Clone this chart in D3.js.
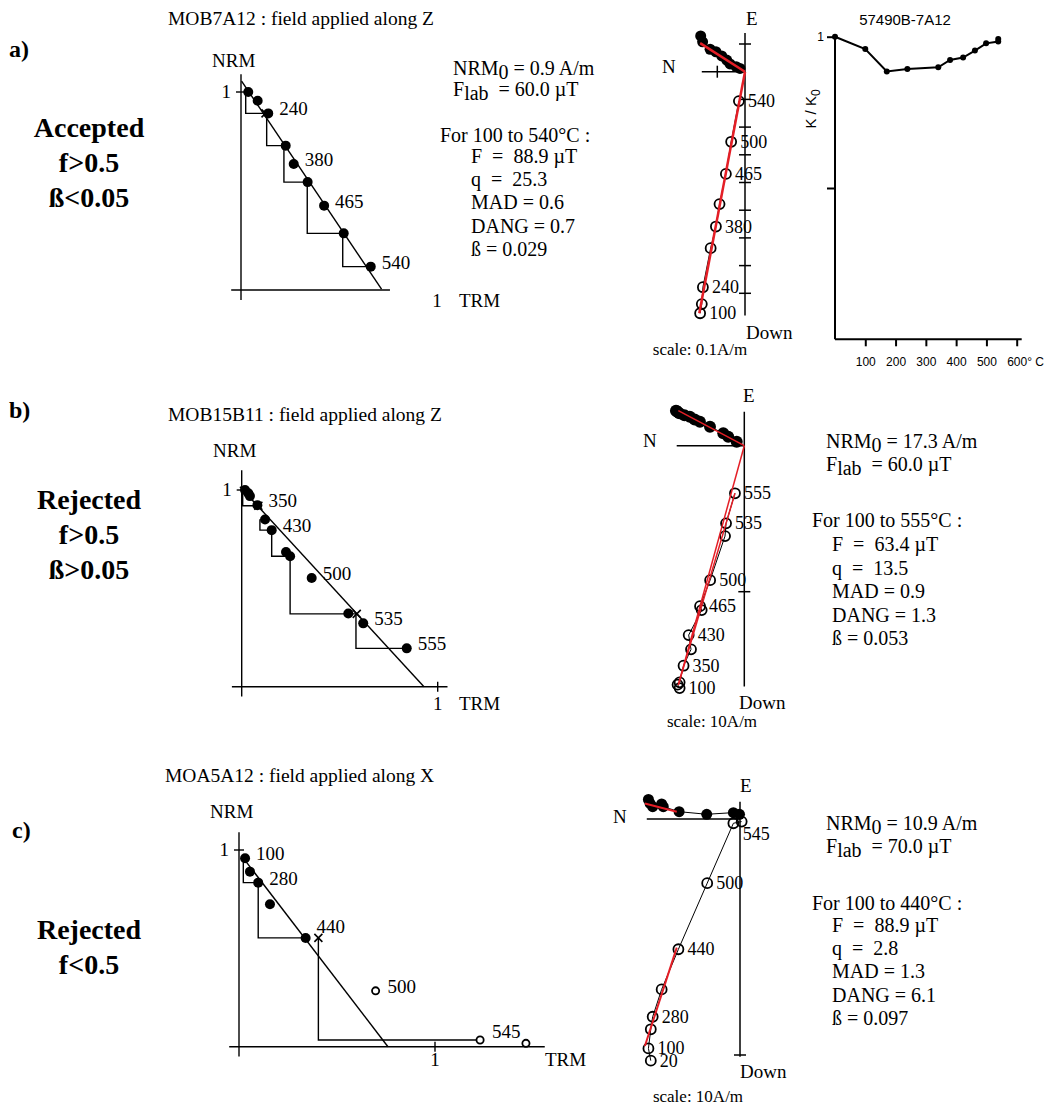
<!DOCTYPE html>
<html>
<head>
<meta charset="utf-8">
<script src="https://cdn.jsdelivr.net/npm/d3@7/dist/d3.min.js"></script>
<style>
  body { margin: 0; background: #fff; }
  svg { display: block; }
</style>
</head>
<body>
<div id="chart"></div>
<script>
// ---------- panel a : MOB7A12 ----------
const aTrm = [0.037, 0.085, 0.139, 0.228, 0.269, 0.340, 0.424, 0.524, 0.662];
const aNrm = [1.000, 0.956, 0.892, 0.729, 0.636, 0.545, 0.426, 0.286, 0.118];
const aTemps = ['', '', '240', '', '380', '', '465', '', '540'];
// pTRM checks: [trm of start, nrm top, nrm bottom, trm of check]
const aChecks = [[0.024, 1.0, 0.892, 0.13], [0.131, 0.892, 0.729, 0.22], [0.219, 0.729, 0.545, 0.335],
                 [0.338, 0.545, 0.286, 0.52], [0.519, 0.286, 0.118, 0.65]];
const aCross = [[0.125, 0.892]];
const aFit = [[0.003, 1.055], [0.717, 0.004]];
// zijderveld (A/m)
const aHorN = [0.160, 0.153, 0.126, 0.105, 0.084, 0.066, 0.054, 0.032, 0.018];
const aHorE = [0.129, 0.108, 0.081, 0.072, 0.057, 0.042, 0.028, 0.018, 0.012];
const aVerN = [0.162, 0.156, 0.152, 0.124, 0.105, 0.092, 0.069, 0.050, 0.022];
const aVerD = [0.872, 0.839, 0.778, 0.637, 0.559, 0.478, 0.369, 0.253, 0.106];
const aZTemps = ['100', '', '240', '', '380', '', '465', '500', '540'];
const aFitH = [[[0.162, 0.103], [0, 0]]];
const aFitV = [[[0.165, 0.872], [0, 0]]];
const aStats = ['For 100 to 540°C :', 'F  =  88.9 µT', 'q  =  25.3', 'MAD = 0.6', 'DANG = 0.7', 'ß = 0.029'];
const aNrm0 = ' = 0.9 A/m', aFlab = '  = 60.0 µT';

// susceptibility
const kTemp = [0, 100, 171, 239, 341, 380, 423, 462, 499, 539, 539];
const kRatio = [1.0, 0.959, 0.885, 0.893, 0.899, 0.923, 0.931, 0.954, 0.978, 0.984, 0.992];
const kTicks = [100, 200, 300, 400, 500, 600];

// ---------- panel b : MOB15B11 ----------
const bTrm = [0.017, 0.034, 0.042, 0.080, 0.119, 0.153, 0.226, 0.247, 0.357, 0.544, 0.620, 0.842];
const bNrm = [1.000, 0.983, 0.969, 0.923, 0.850, 0.796, 0.685, 0.663, 0.553, 0.372, 0.322, 0.195];
const bTemps = ['', '', '', '350', '', '430', '', '', '500', '', '535', '555'];
const bChecks = [[0.005, 1.0, 0.920, 0.085], [0.093, 0.851, 0.796, 0.153], [0.153, 0.796, 0.663, 0.238],
                 [0.247, 0.663, 0.370, 0.587], [0.583, 0.370, 0.195, 0.842]];
const bCross = [[0.085, 0.920], [0.587, 0.370]];
const bFit = [[-0.009, 1.017], [0.93, 0]];
const bHorN = [4.68, 4.62, 4.55, 4.45, 4.10, 3.73, 3.40, 3.04, 2.35, 1.44, 1.10, 0.52];
const bHorE = [2.40, 2.36, 2.30, 2.22, 2.08, 1.99, 1.80, 1.64, 1.30, 0.85, 0.62, 0.27];
const bVerN = [4.43, 4.57, 4.43, 4.16, 3.65, 3.81, 2.92, 3.03, 2.34, 1.32, 1.25, 0.64];
const bVerD = [16.6, 16.37, 16.21, 15.07, 13.95, 12.97, 11.26, 10.99, 9.21, 6.19, 5.32, 3.26];
const bZTemps = ['100', '', '', '350', '', '430', '', '465', '500', '', '535', '555'];
const bFitH = [[[4.52, 2.40], [0, 0]]];
const bFitV = [[[4.52, 16.39], [0, 0]], [[4.52, 16.39], [0.64, 3.26]]];
const bStats = ['For 100 to 555°C :', 'F  =  63.4 µT', 'q  =  13.5', 'MAD = 0.9', 'DANG = 1.3', 'ß = 0.053'];
const bNrm0 = ' = 17.3 A/m', bFlab = '  = 60.0 µT';

// ---------- panel c : MOA5A12 ----------
const cTrm = [0.031, 0.056, 0.098, 0.158, 0.340];
const cNrm = [0.958, 0.890, 0.834, 0.724, 0.553];
const cTemps = ['100', '', '280', '', ''];
const cOpenTrm = [0.697, 1.230, 1.464];
const cOpenNrm = [0.284, 0.034, 0.017];
const cOpenTemps = ['500', '545', ''];
const cChecks = [[0.022, 0.958, 0.834, 0.098], [0.098, 0.834, 0.553, 0.340], [0.405, 0.553, 0.034, 1.23]];
const cCross = [[0.405, 0.553]];
const cCrossTemps = ['440'];
const cFit = [[0.022, 0.959], [0.76, 0]];
const cHorN = [3.88, 3.81, 3.70, 3.32, 3.25, 2.58, 1.41, 0.28, 0.02];
const cHorE = [0.83, 0.66, 0.52, 0.64, 0.52, 0.31, 0.20, 0.27, 0.20];
const cVerN = [3.78, 3.88, 3.78, 3.70, 3.32, 2.61, 1.39, 0.28, -0.07];
const cVerD = [10.24, 9.72, 8.91, 8.38, 7.22, 5.52, 2.72, 0.18, 0.11];
const cZTemps = ['20', '100', '', '280', '', '440', '500', '', '545'];
const cFitH = [[[4.03, 0.66], [2.68, 0.31]]];
const cFitV = [[[4.03, 9.62], [2.68, 5.45]]];
const cStats = ['For 100 to 440°C :', 'F  =  88.9 µT', 'q  =  2.8', 'MAD = 1.3', 'DANG = 6.1', 'ß = 0.097'];
const cNrm0 = ' = 10.9 A/m', cFlab = '  = 70.0 µT';

// ---------- drawing ----------
const SERIF = '"Liberation Serif", "Times New Roman", serif';
const SANS = '"Liberation Sans", Arial, Helvetica, sans-serif';
const RED = '#e41e26';

const svg = d3.select('#chart').append('svg')
  .attr('width', 1045).attr('height', 1106)
  .style('font-family', SERIF);

function label(g, x, y, s, size = 19, anchor = 'start', weight = null) {
  return g.append('text')
    .attr('x', x).attr('y', y)
    .attr('font-size', size)
    .attr('text-anchor', anchor)
    .attr('font-weight', weight)
    .style('white-space', 'pre')
    .text(s);
}

function line(g, x1, y1, x2, y2, w = 1.4, c = '#000') {
  return g.append('line')
    .attr('x1', x1).attr('y1', y1).attr('x2', x2).attr('y2', y2)
    .attr('stroke', c).attr('stroke-width', w);
}

function subLine(g, x, y, a, s, b, size = 20) {
  const t = g.append('text').attr('x', x).attr('y', y)
    .attr('font-size', size).style('white-space', 'pre');
  t.append('tspan').text(a);
  t.append('tspan').attr('dy', 4).text(s);
  t.append('tspan').attr('dy', -4).text(b);
}

function drawArai(L, trm, nrm, temps, openTrm, openNrm, openTemps, checks, crosses, crossTemps, fit) {
  const x = d3.scaleLinear().domain([0, 1]).range([L.ox, L.ox + L.sx]);
  const y = d3.scaleLinear().domain([0, 1]).range([L.oy, L.oy - L.sy]);
  const g = svg.append('g');

  // axes
  line(g, x(-0.05), y(0), x(L.xMax), y(0));
  line(g, x(0), y(-0.05), x(0), y(L.yMax));
  line(g, x(0) - 5, y(1), x(0) + 5, y(1));
  if (L.trmTick) line(g, x(1), y(0) - 5, x(1), y(0) + 5);
  label(g, x(0) - 10, y(1) + 6, '1', 19, 'end');
  label(g, L.nrmX, L.nrmY, 'NRM', 19);
  label(g, x(1), y(0) + L.trmDy, '1', 19, 'middle');
  label(g, L.trmX, y(0) + L.trmDy, 'TRM', 19);

  // pTRM checks
  g.selectAll('path.check').data(checks).enter().append('path')
    .attr('class', 'check')
    .attr('d', c => `M${x(c[0])},${y(c[1])}V${y(c[2])}H${x(c[3])}`)
    .attr('fill', 'none').attr('stroke', '#000').attr('stroke-width', 1.4);

  // best fit
  line(g, x(fit[0][0]), y(fit[0][1]), x(fit[1][0]), y(fit[1][1]), 1.4);

  // crosses
  crosses.forEach(([cx, cy], i) => {
    const px = x(cx), py = y(cy);
    line(g, px - 4, py - 4, px + 4, py + 4, 1.6);
    line(g, px - 4, py + 4, px + 4, py - 4, 1.6);
    if (crossTemps && crossTemps[i]) label(g, px - 2, py - 5, crossTemps[i], 19);
  });

  // points
  g.selectAll('circle.f').data(trm).enter().append('circle')
    .attr('class', 'f')
    .attr('cx', d => x(d)).attr('cy', (d, i) => y(nrm[i]))
    .attr('r', 5).attr('fill', '#000');
  g.selectAll('circle.o').data(openTrm).enter().append('circle')
    .attr('class', 'o')
    .attr('cx', d => x(d)).attr('cy', (d, i) => y(openNrm[i]))
    .attr('r', 3.6).attr('fill', '#fff').attr('stroke', '#000').attr('stroke-width', 1.8);

  temps.forEach((t, i) => { if (t) label(g, x(trm[i]) + 11, y(nrm[i]) + 2, t, 19); });
  openTemps.forEach((t, i) => { if (t) label(g, x(openTrm[i]) + 12, y(openNrm[i]) + (i ? -2 : 2), t, 19); });
}

function drawZij(L, hN, hE, vN, vD, temps, fitH, fitV) {
  const x = d3.scaleLinear().domain([0, 1]).range([L.ox, L.ox - L.s]);
  const y = d3.scaleLinear().domain([0, 1]).range([L.oy, L.oy + L.s]);
  const g = svg.append('g');

  // axes
  line(g, x(L.nMax), y(0), x(0), y(0), 1.5);
  line(g, x(0), y(-L.eMax), x(0), y(L.dMax), 1.5);
  L.dTicks.forEach(d => line(g, x(0) - 6, y(d), x(0) + 6, y(d), 1.5));
  L.eTicks.forEach(e => line(g, x(0) - 6, y(-e), x(0) + 6, y(-e), 1.5));
  L.nTicks.forEach(n => line(g, x(n), y(0) - 6, x(n), y(0) + 6, 1.5));
  label(g, L.eLab[0], L.eLab[1], 'E', 19);
  label(g, L.nLab[0], L.nLab[1], 'N', 19);
  label(g, L.downLab[0], L.downLab[1], 'Down', 19);
  label(g, L.scaleLab[0], L.scaleLab[1], L.scaleText, 17, 'middle');

  // thin connecting lines
  const lh = d3.line().x((d, i) => x(d)).y((d, i) => y(-hE[i]));
  const lv = d3.line().x((d, i) => x(d)).y((d, i) => y(vD[i]));
  g.append('path').attr('d', lh(hN)).attr('fill', 'none').attr('stroke', '#000').attr('stroke-width', 1);
  g.append('path').attr('d', lv(vN)).attr('fill', 'none').attr('stroke', '#000').attr('stroke-width', 1);

  // horizontal projection (filled), vertical projection (open)
  g.selectAll('circle.h').data(hN).enter().append('circle')
    .attr('class', 'h')
    .attr('cx', d => x(d)).attr('cy', (d, i) => y(-hE[i]))
    .attr('r', L.rh).attr('fill', '#000');
  g.selectAll('circle.v').data(vN).enter().append('circle')
    .attr('class', 'v')
    .attr('cx', d => x(d)).attr('cy', (d, i) => y(vD[i]))
    .attr('r', 5).attr('fill', '#fff').attr('fill-opacity', 0)
    .attr('stroke', '#000').attr('stroke-width', 1.8);

  // fits
  fitH.forEach(s => line(g, x(s[0][0]), y(-s[0][1]), x(s[1][0]), y(-s[1][1]), L.redW, RED));
  fitV.forEach(s => line(g, x(s[0][0]), y(s[0][1]), x(s[1][0]), y(s[1][1]), L.redW, RED));

  temps.forEach((t, i) => {
    if (!t) return;
    const n = (L.nudge && L.nudge[t]) || [9, 6];
    label(g, x(vN[i]) + n[0], y(vD[i]) + n[1], t, 18);
  });
}

function drawStats(L, nrm0, flab, stats) {
  const g = svg.append('g');
  subLine(g, L.x0, L.y0, 'NRM', '0', nrm0);
  subLine(g, L.x0, L.y1, 'F', 'lab', flab);
  stats.forEach((s, i) => label(g, i ? L.x2 : L.x1, L.ys[i], s, 20));
}

function drawSide(L, lines) {
  const g = svg.append('g');
  label(g, L.tagX, L.tagY, L.tag, 24, 'start', 'bold');
  lines.forEach((s, i) => label(g, 89, L.y + i * 35, s, 28, 'middle', 'bold'));
}

// headers & side labels
label(svg, 168, 25, 'MOB7A12 : field applied along Z', 19.5);
label(svg, 168, 421, 'MOB15B11 : field applied along Z', 19.5);
label(svg, 165, 782, 'MOA5A12 : field applied along X', 19.5);
drawSide({tag: 'a)', tagX: 9, tagY: 57, y: 137}, ['Accepted', 'f>0.5', 'ß<0.05']);
drawSide({tag: 'b)', tagX: 9, tagY: 418, y: 509}, ['Rejected', 'f>0.5', 'ß>0.05']);
drawSide({tag: 'c)', tagX: 12, tagY: 838, y: 939}, ['Rejected', 'f<0.5']);

// Arai plots
drawArai({ox: 241, oy: 290, sx: 196, sy: 198, xMax: 0.76, yMax: 1.09, trmTick: false, nrmX: 212, nrmY: 67, trmX: 459, trmDy: 17},
  aTrm, aNrm, aTemps, [], [], [], aChecks, aCross, null, aFit);
drawArai({ox: 241.7, oy: 686.7, sx: 196, sy: 196.7, xMax: 1.05, yMax: 1.10, trmTick: true, nrmX: 213, nrmY: 457, trmX: 459, trmDy: 23},
  bTrm, bNrm, bTemps, [], [], [], bChecks, bCross, null, bFit);
drawArai({ox: 239, oy: 1046.7, sx: 196, sy: 196.7, xMax: 1.56, yMax: 1.09, trmTick: true, nrmX: 210, nrmY: 818, trmX: 545, trmDy: 19},
  cTrm, cNrm, cTemps, cOpenTrm, cOpenNrm, cOpenTemps, cChecks, cCross, cCrossTemps, cFit);

// Zijderveld plots
drawZij({ox: 745, oy: 71.7, s: 277, nMax: 0.156, eMax: 0.14, dMax: 0.88, rh: 5.5, redW: 2.5,
  dTicks: [0.1, 0.2, 0.3, 0.4, 0.5, 0.6, 0.7, 0.8], eTicks: [0.1], nTicks: [0.1],
  eLab: [746, 25], nLab: [662, 73], downLab: [746, 339], scaleLab: [700, 355], scaleText: 'scale: 0.1A/m'},
  aHorN, aHorE, aVerN, aVerD, aZTemps, aFitH, aFitV);
drawZij({ox: 744.3, oy: 445.7, s: 14.6, nMax: 4.63, eMax: 2.33, dMax: 16.5, rh: 6, redW: 1.5,
  dTicks: [10], eTicks: [], nTicks: [],
  eLab: [743, 402], nLab: [643, 447], downLab: [739, 709], scaleLab: [712, 727], scaleText: 'scale: 10A/m'},
  bHorN, bHorE, bVerN, bVerD, bZTemps, bFitH, bFitV);
drawZij({ox: 740, oy: 819, s: 23.6, nMax: 3.95, eMax: 0.73, dMax: 10.07, rh: 5.5, redW: 2,
  dTicks: [10], eTicks: [], nTicks: [], nudge: {'545': [1, 18]},
  eLab: [740, 792], nLab: [613, 823], downLab: [740, 1078], scaleLab: [698, 1102], scaleText: 'scale: 10A/m'},
  cHorN, cHorE, cVerN, cVerD, cZTemps, cFitH, cFitV);

// stats blocks
drawStats({x0: 453, y0: 75, y1: 96, x1: 440, x2: 471, ys: [142, 163, 186, 209, 233, 256]}, aNrm0, aFlab, aStats);
drawStats({x0: 826, y0: 448, y1: 471, x1: 812, x2: 832, ys: [527, 551, 575, 598, 622, 645]}, bNrm0, bFlab, bStats);
drawStats({x0: 826, y0: 830, y1: 853, x1: 812, x2: 832, ys: [910, 932, 955, 978, 1002, 1025]}, cNrm0, cFlab, cStats);

// susceptibility curve
{
  const kx = d3.scaleLinear().domain([0, 600]).range([835, 1016.7]);
  const ky = d3.scaleLinear().domain([0, 1]).range([339.3, 36.7]);
  const g = svg.append('g').style('font-family', SANS);

  line(g, kx(0), ky(0), 1021.7, ky(0), 2);
  line(g, kx(0), ky(0), kx(0), ky(1), 2);

  const xa = g.append('g').attr('transform', `translate(0,${ky(0)})`)
    .call(d3.axisBottom(kx).tickValues(kTicks).tickSize(7).tickSizeOuter(0).tickPadding(11)
      .tickFormat(d => d === 600 ? '600° C' : d));
  xa.select('.domain').remove();
  xa.selectAll('line').attr('stroke-width', 2);
  xa.selectAll('text').attr('font-size', 12).attr('font-family', SANS).attr('fill', '#000');
  xa.selectAll('text').filter(d => d === 600).attr('text-anchor', 'start').attr('x', -10);

  const ya = g.append('g').attr('transform', `translate(${kx(0)},0)`)
    .call(d3.axisLeft(ky).tickValues([0.5, 1]).tickSize(8).tickSizeOuter(0).tickPadding(3)
      .tickFormat(d => d === 1 ? '1' : ''));
  ya.select('.domain').remove();
  ya.selectAll('line').attr('stroke-width', 2);
  ya.selectAll('text').attr('font-size', 12).attr('font-family', SANS).attr('fill', '#000');

  label(g, 905, 25, '57490B-7A12', 15, 'middle').attr('font-family', SANS);
  const yl = g.append('text').attr('transform', 'translate(816,109) rotate(-90)')
    .attr('text-anchor', 'middle').attr('font-size', 15).attr('font-family', SANS)
    .style('white-space', 'pre');
  yl.append('tspan').text('K / K');
  yl.append('tspan').attr('dy', 4).attr('font-size', 12).text('0');

  const path = d3.line().x(d => kx(d)).y((d, i) => ky(kRatio[i]));
  g.append('path').attr('d', path(kTemp)).attr('fill', 'none').attr('stroke', '#000').attr('stroke-width', 2);
  g.selectAll('circle').data(kTemp).enter().append('circle')
    .attr('cx', d => kx(d)).attr('cy', (d, i) => ky(kRatio[i])).attr('r', 3).attr('fill', '#000');
}
</script>
</body>
</html>
